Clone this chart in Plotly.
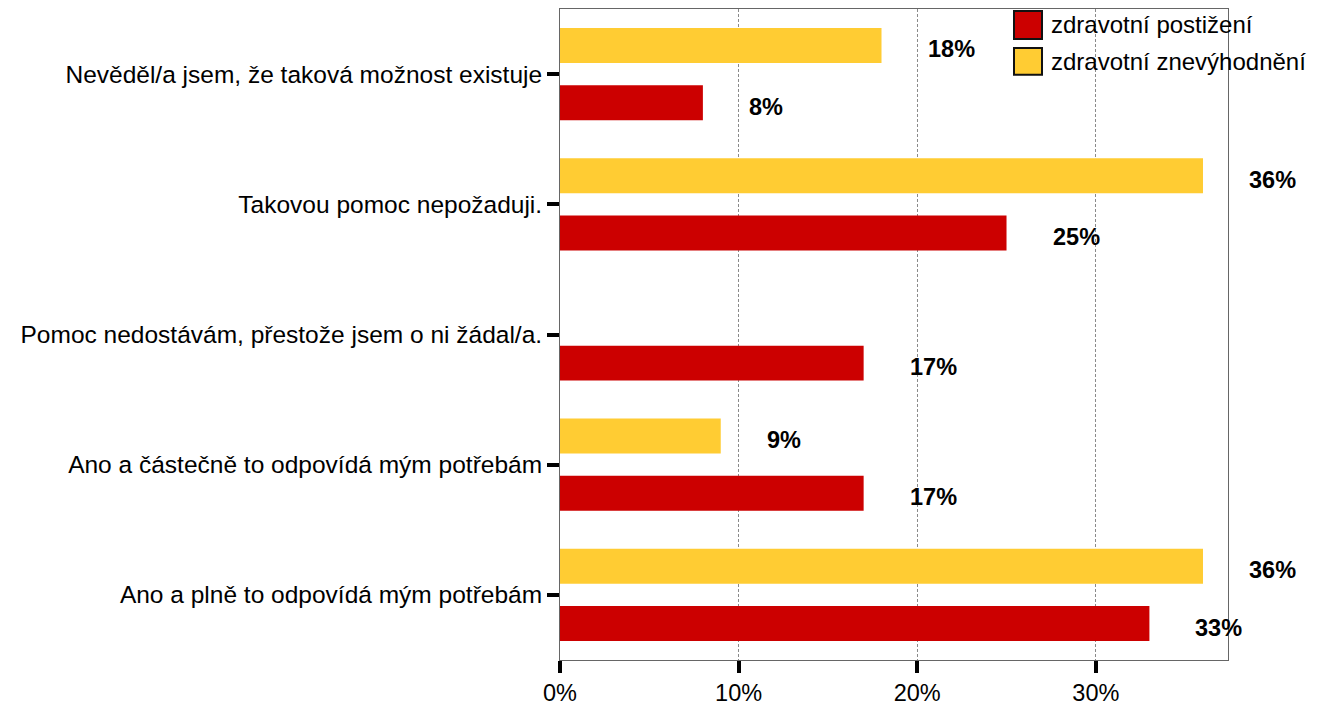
import plotly.graph_objects as go

categories = [
    "Ano a plně to odpovídá mým potřebám",
    "Ano a částečně to odpovídá mým potřebám",
    "Pomoc nedostávám, přestože jsem o ni žádal/a.",
    "Takovou pomoc nepožaduji.",
    "Nevěděl/a jsem, že taková možnost existuje",
]
postizeni = [33, 17, 17, 25, 8]
znevyhodneni = [36, 9, 0, 36, 18]
series_names = ["zdravotní postižení", "zdravotní znevýhodnění"]
colors = ["#CC0000", "#FFCC33"]
x_ticks = [0, 10, 20, 30]

FONT = "Liberation Sans, Arial, sans-serif"

fig = go.Figure()
for name, vals, col in zip(series_names, [postizeni, znevyhodneni], colors):
    fig.add_trace(go.Bar(
        y=categories, x=vals, orientation="h", name=name,
        marker=dict(color=col, line=dict(width=0)),
        showlegend=False,
    ))

# value labels
for vals, off in [(postizeni, -0.22), (znevyhodneni, 0.22)]:
    for i, v in enumerate(vals):
        if v <= 0:
            continue
        fig.add_annotation(
            x=v, y=i + off, xref="x", yref="y",
            text=f"<b>{v}%</b>", showarrow=False,
            xanchor="left", yanchor="middle", xshift=44, yshift=-4,
            font=dict(family=FONT, size=23.5, color="black"),
        )

# legend (drawn in paper coordinates)
PW, PH = 668, 653
leg_items = [(series_names[0], colors[0], 2, 30), (series_names[1], colors[1], 39, 66)]
for name, col, y0, y1 in leg_items:
    fig.add_shape(type="rect", xref="paper", yref="paper",
                  x0=(1014 - 560) / PW, x1=(1042 - 560) / PW,
                  y0=1 - y0 / PH, y1=1 - y1 / PH,
                  fillcolor=col, line=dict(color="#111111", width=2))
    fig.add_annotation(xref="paper", yref="paper",
                       x=(1049 - 560) / PW, y=1 - ((y0 + y1) / 2) / PH,
                       text=name, showarrow=False, xanchor="left", yanchor="middle",
                       font=dict(family=FONT, size=24, color="black"))

fig.update_layout(
    width=1312, height=698,
    margin=dict(l=552, r=92, t=0, b=45, pad=0),
    plot_bgcolor="white", paper_bgcolor="white",
    barmode="group", bargap=0.12, bargroupgap=0.39,
    font=dict(family=FONT, size=20, color="black"),
    showlegend=False,
)
fig.update_xaxes(
    range=[0, 37.4], tickvals=x_ticks, ticktext=[f"{t}%" for t in x_ticks],
    showgrid=True, gridcolor="#8a8a8a", griddash="3px,2px", gridwidth=1,
    zeroline=False, showline=True, linecolor="#666666", linewidth=1, mirror=True,
    ticks="outside", ticklen=12, tickwidth=4, tickcolor="black",
    tickfont=dict(family=FONT, size=23.5, color="black"),
)
fig.update_yaxes(
    type="category", categoryorder="array", categoryarray=categories,
    showgrid=False, zeroline=False,
    showline=True, linecolor="#666666", linewidth=1, mirror=True,
    ticks="outside", ticklen=12, tickwidth=4, tickcolor="black",
    tickfont=dict(family=FONT, size=24.5, color="black"),
)

fig.write_html("out.html")
